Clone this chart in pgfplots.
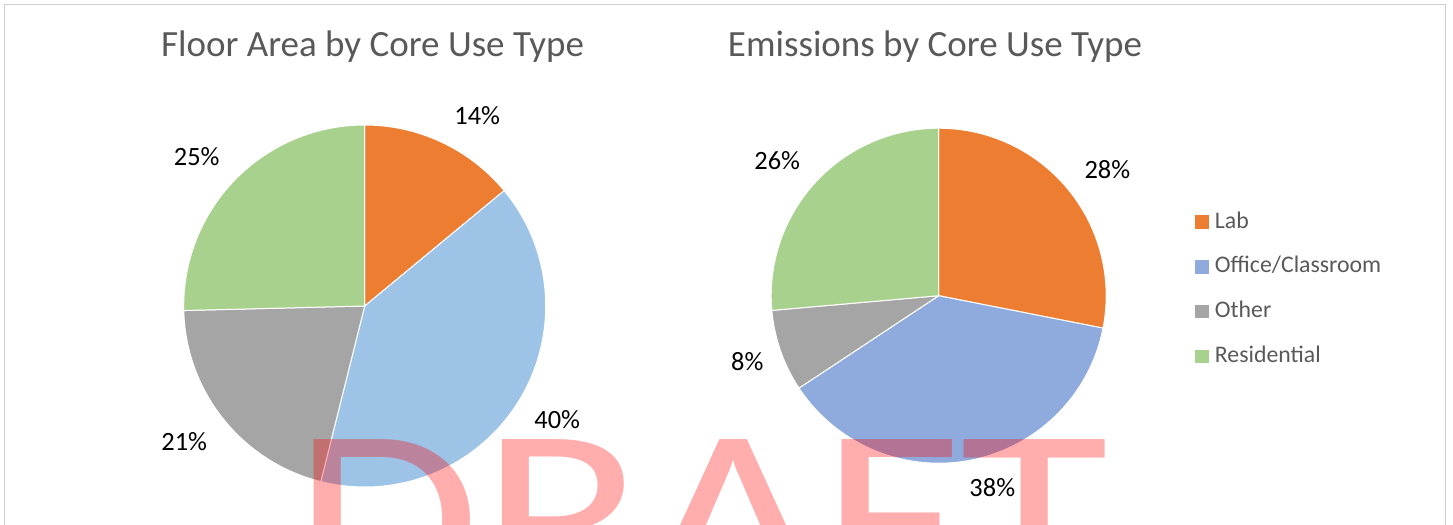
\documentclass[border=0pt]{standalone}
\usepackage{pgfplots}
\usepackage{pgfplotstable}
\pgfplotsset{compat=1.18}
\usepackage{fontspec}
\setmainfont{Carlito}

\definecolor{cLab}{HTML}{ED7D31}
\definecolor{cOfficeA}{HTML}{9DC3E6}
\definecolor{cOfficeB}{HTML}{8FAADC}
\definecolor{cOther}{HTML}{A5A5A5}
\definecolor{cRes}{HTML}{A9D18E}
\definecolor{cText}{HTML}{595959}
\definecolor{cFrame}{HTML}{CFCFCF}

% share (%) of each core use type, and label position (in pie radii from the centre)
\pgfplotstableread{
pct  lx     ly
14.0 0.622  1.050
39.9 1.064  -0.630
20.7 -0.997 -0.750
25.4 -0.928 0.823
}\floortable
\pgfplotstableread{
pct  lx     ly
28.1 1.007  0.750
37.6 0.320  -1.144
7.9  -1.143 -0.394
26.4 -0.964 0.806
}\emistable

% cumulative start/end angles (clockwise from 12 o'clock)
\newcommand\computeangles[2]{%
  \xdef\cumang{90}%
  \pgfplotstableforeachcolumnelement{pct}\of#1\as\val{%
    \pgfmathsetmacro\endang{\cumang-3.6*\val}%
    \expandafter\xdef\csname #2S\pgfplotstablerow\endcsname{\cumang}%
    \expandafter\xdef\csname #2E\pgfplotstablerow\endcsname{\endang}%
    \xdef\cumang{\endang}%
  }%
}
\computeangles{\floortable}{floor}
\computeangles{\emistable}{emis}

\newcommand\slice[4]{% radius, prefix, row, colour
  \fill[#4, draw=white, line width=0.5pt] (axis cs:0,0) -- (axis cs:{cos(\csname #2S#3\endcsname)},{sin(\csname #2S#3\endcsname)}) arc[start angle={\csname #2S#3\endcsname}, end angle={\csname #2E#3\endcsname}, radius=#1] -- cycle;}

\pgfplotsset{
  pie/.style={
    scale only axis, hide axis, clip=false,
    xmin=-1, xmax=1, ymin=-1, ymax=1, enlargelimits=false,
    anchor=center,
  },
  pielabels/.style={
    draw=none, mark=none,
    point meta=explicit,
    /pgf/number format/assume math mode=true,
    nodes near coords={\pgfmathprintnumber[fixed,precision=0,assume math mode=true]{\pgfplotspointmeta}\%},
    every node near coord/.append style={font=\fontsize{13.2}{15}\selectfont, text=black, anchor=center, inner sep=0pt},
  },
}

\begin{document}
\begin{tikzpicture}
\useasboundingbox (0,0) rectangle (726.5pt,-262.5pt);
\clip (0,0) rectangle (726.5pt,-262.5pt);
\draw[cFrame, line width=0.5pt] (2.2pt,-300pt) -- (2.2pt,-2.2pt) -- (722.5pt,-2.2pt) -- (722.5pt,-300pt);

% ---------- Floor area ----------
\begin{axis}[pie, width=181pt, height=181pt, at={(182.35pt,-153pt)},
  title={Floor Area by Core Use Type},
  every axis title/.style={at={(0.5216,1.188)}, anchor=base, font=\fontsize{18.5}{22}\selectfont, text=cText, inner sep=0pt},
]
\slice{90.5pt}{floor}{0}{cLab}
\slice{90.5pt}{floor}{1}{cOfficeA}
\slice{90.5pt}{floor}{2}{cOther}
\slice{90.5pt}{floor}{3}{cRes}
\addplot[pielabels] table[x=lx, y=ly, meta=pct]{\floortable};
\end{axis}

% ---------- Emissions ----------
\begin{axis}[pie, width=167.5pt, height=167.5pt, at={(469.35pt,-147.85pt)},
  title={Emissions by Core Use Type},
  every axis title/.style={at={(0.489,1.213)}, anchor=base, font=\fontsize{18.5}{22}\selectfont, text=cText, inner sep=0pt},
  legend style={draw=none, fill=none, at={(1.265,0.519)}, anchor=west, inner sep=0pt,
    font=\fontsize{11.9}{14}\selectfont, text=cText,
    nodes={inner sep=0pt, text height=8.2pt, text depth=2.4pt},
    row sep=11.75pt, column sep=3pt},
  legend cell align=left,
  legend image code/.code={\fill[#1] (0pt,-3.4pt) rectangle (6.8pt,3.4pt);},
]
\slice{83.75pt}{emis}{0}{cLab}
\slice{83.75pt}{emis}{1}{cOfficeB}
\slice{83.75pt}{emis}{2}{cOther}
\slice{83.75pt}{emis}{3}{cRes}
\addplot[pielabels, forget plot] table[x=lx, y=ly, meta=pct]{\emistable};
\addlegendimage{fill=cLab, draw=none}\addlegendentry{Lab}
\addlegendimage{fill=cOfficeB, draw=none}\addlegendentry{Office/Classroom}
\addlegendimage{fill=cOther, draw=none}\addlegendentry{Other}
\addlegendimage{fill=cRes, draw=none}\addlegendentry{Residential}
\end{axis}

% ---------- watermark ----------
\begin{scope}[shift={(146.5pt,-219.5pt)}, yscale=0.82]
\node[transform shape, anchor=north west, inner sep=0pt, text=red, opacity=0.32,
  font=\fontsize{152}{152}\selectfont] at (0,0) {DRAFT};
\end{scope}
\end{tikzpicture}
\end{document}
